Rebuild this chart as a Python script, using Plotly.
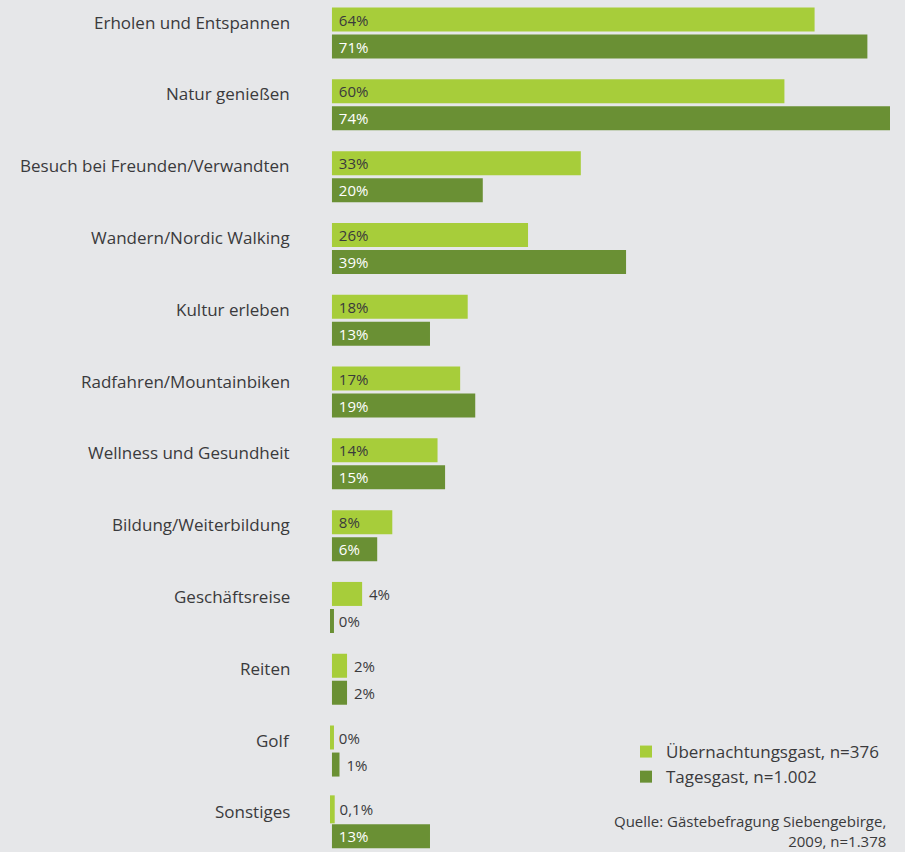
import plotly.graph_objects as go

# Motive für den Besuch im Siebengebirge (Anteile in %)
categories = [
    "Erholen und Entspannen",
    "Natur genießen",
    "Besuch bei Freunden/Verwandten",
    "Wandern/Nordic Walking",
    "Kultur erleben",
    "Radfahren/Mountainbiken",
    "Wellness und Gesundheit",
    "Bildung/Weiterbildung",
    "Geschäftsreise",
    "Reiten",
    "Golf",
    "Sonstiges",
]
uebernachtung = [64, 60, 33, 26, 18, 17, 14, 8, 4, 2, 0, 0.1]
tagesgast = [71, 74, 20, 39, 13, 19, 15, 6, 0, 2, 1, 13]

series_names = ["Übernachtungsgast, n=376", "Tagesgast, n=1.002"]
source_lines = ["Quelle: Gästebefragung Siebengebirge,", "2009, n=1.378"]

LIGHT = "#a7cd3a"
DARK = "#6a9034"
BG = "#e6e7e9"
TEXT = "#3a3a3c"
FONT = "'Open Sans', 'Noto Sans', sans-serif"


def fmt(v):
    s = f"{v:g}".replace(".", ",")
    return f" {s}%"


def bar_trace(name, values, color, inside_color):
    positions = ["inside" if v >= 6 else "outside" for v in values]
    # zero and near-zero values are shown as a thin stub via the outline
    line_w = [4 if v < 0.5 else 0 for v in values]
    return go.Bar(
        name=name,
        y=categories,
        x=values,
        orientation="h",
        marker=dict(color=color, line=dict(color=color, width=line_w)),
        text=[fmt(v) for v in values],
        textposition=positions,
        insidetextanchor="start",
        insidetextfont=dict(color=inside_color, size=15, family=FONT),
        outsidetextfont=dict(color=TEXT, size=15, family=FONT),
        constraintext="none",
        cliponaxis=False,
        hoverinfo="skip",
    )


fig = go.Figure()
fig.add_trace(bar_trace(series_names[0], uebernachtung, LIGHT, TEXT))
fig.add_trace(bar_trace(series_names[1], tagesgast, DARK, "#ffffff"))

for cat in categories:
    fig.add_annotation(
        x=0, xref="paper", y=cat, yref="y",
        text=cat, showarrow=False,
        xanchor="right", yanchor="middle",
        xshift=-38, yshift=11,
        font=dict(size=17, color=TEXT, family=FONT),
    )

fig.add_annotation(
    x=1, xref="paper", y=0, yref="paper",
    text="<br>".join(source_lines), showarrow=False,
    xanchor="right", yanchor="bottom", align="right",
    xshift=-2, yshift=-1,
    font=dict(size=15, color=TEXT, family=FONT),
)

fig.update_layout(
    width=905,
    height=852,
    margin=dict(l=330, r=15, t=0, b=0),
    paper_bgcolor=BG,
    plot_bgcolor=BG,
    barmode="group",
    bargap=0.248,
    bargroupgap=0.111,
    showlegend=True,
    legend=dict(
        x=(626 - 330) / 560, xanchor="left",
        y=1 - 734 / 852, yanchor="top",
        traceorder="normal",
        bgcolor="rgba(0,0,0,0)",
        font=dict(size=17, color=TEXT, family=FONT),
        itemclick=False,
    ),
    xaxis=dict(range=[-0.26, 74], visible=False, fixedrange=True),
    yaxis=dict(
        type="category",
        range=[11.406, -0.46],
        visible=False,
        fixedrange=True,
    ),
    font=dict(family=FONT, color=TEXT),
)

fig.write_html("out.html", config={"displayModeBar": False})
